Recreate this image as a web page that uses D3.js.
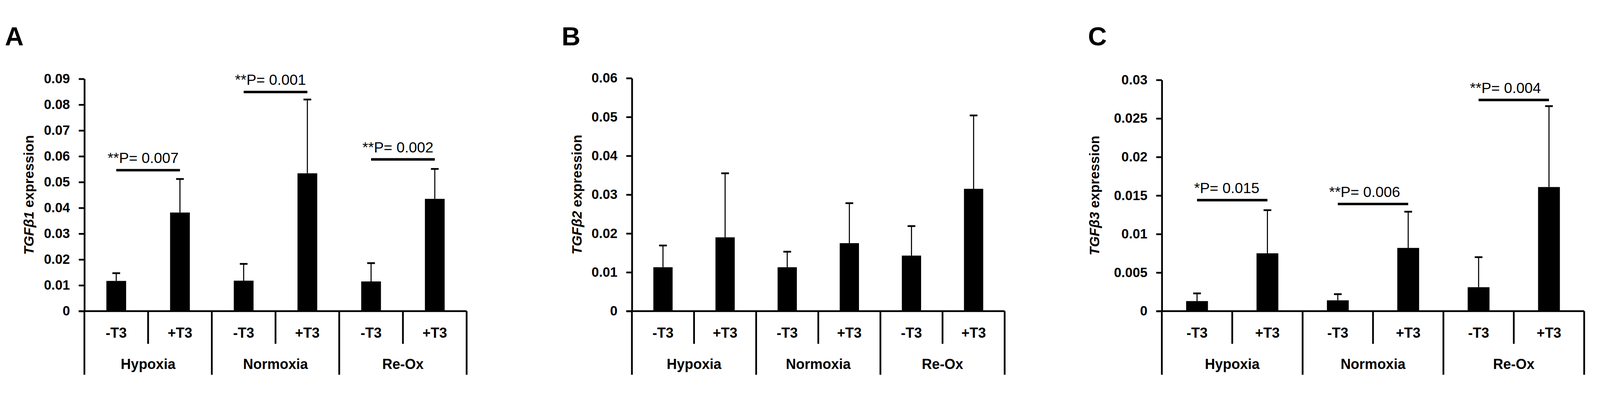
<!DOCTYPE html>
<html>
<head>
<meta charset="utf-8">
<script src="https://cdn.jsdelivr.net/npm/d3@7"></script>
<style>
  html, body { margin: 0; padding: 0; background: #fff; overflow: hidden; }
  #chart svg { display: block; width: 100vw; height: 100vh; }
  text { font-family: "Liberation Sans", Arial, sans-serif; fill: #000; }
</style>
</head>
<body>
<div id="chart"></div>
<script>
// categories
var groups = ["Hypoxia", "Normoxia", "Re-Ox"];
var treatments = ["-T3", "+T3"];

// means, in order Hypoxia -T3, +T3, Normoxia -T3, +T3, Re-Ox -T3, +T3
var tgfb1Mean = [0.0117, 0.0382, 0.0118, 0.0534, 0.0115, 0.0435];
var tgfb1Err  = [0.0030, 0.0130, 0.0065, 0.0286, 0.0071, 0.0116];
var tgfb2Mean = [0.0113, 0.0190, 0.0113, 0.0175, 0.0143, 0.0315];
var tgfb2Err  = [0.0056, 0.0165, 0.0040, 0.0103, 0.0076, 0.0189];
var tgfb3Mean = [0.0013, 0.0075, 0.0014, 0.0082, 0.0031, 0.0161];
var tgfb3Err  = [0.0010, 0.0056, 0.0008, 0.0047, 0.0039, 0.0105];

// y ticks
var tgfb1Ticks = [0, 0.01, 0.02, 0.03, 0.04, 0.05, 0.06, 0.07, 0.08, 0.09];
var tgfb2Ticks = [0, 0.01, 0.02, 0.03, 0.04, 0.05, 0.06];
var tgfb3Ticks = [0, 0.005, 0.01, 0.015, 0.02, 0.025, 0.03];

// significance brackets (group, height, text)
var tgfb1SigGroups = ["Hypoxia", "Normoxia", "Re-Ox"];
var tgfb1SigLevel  = [0.0546, 0.0849, 0.0588];
var tgfb1SigText   = ["**P= 0.007", "**P= 0.001", "**P= 0.002"];
var tgfb3SigGroups = ["Hypoxia", "Normoxia", "Re-Ox"];
var tgfb3SigLevel  = [0.0144, 0.0139, 0.0274];
var tgfb3SigText   = ["*P= 0.015", "**P= 0.006", "**P= 0.004"];

var W = 4550, H = 1031;
var y0 = 827;

var svg = d3.select("#chart")
  .append("svg")
    .attr("viewBox", "0 0 " + W + " " + H)
    .attr("preserveAspectRatio", "xMidYMid meet");

function makePanel(opt) {
	var keys = [];
	groups.forEach(function(g) {
		treatments.forEach(function(t) { keys.push(g + "|" + t); });
	});
	var rows = keys.map(function(k, i) {
		return { key: k, group: k.split("|")[0], treat: k.split("|")[1], mean: opt.mean[i], err: opt.err[i] };
	});

	var x = d3.scaleBand().domain(keys).range([opt.x0, opt.x1]).padding(0);
	var y = d3.scaleLinear().domain([0, opt.ticks[opt.ticks.length - 1]]).range([y0, opt.yTop]);
	var g = svg.append("g");

	//panel letter
	g.append("text")
	    .attr("x", opt.letterX)
	    .attr("y", 72)
	    .style("font-size", "74px")
	    .style("font-weight", "bold")
	    .text(opt.letter);

	//y axis
	var yAxis = d3.axisLeft(y)
	    .tickValues(opt.ticks)
	    .tickSizeInner(16)
	    .tickSizeOuter(0)
	    .tickPadding(25)
	    .tickFormat(function(d) { return d === 0 ? "0" : String(+d.toFixed(3)); });
	var ya = g.append("g")
	    .attr("transform", "translate(" + opt.x0 + ",0)")
	    .call(yAxis);
	ya.select(".domain").attr("stroke", "#000").attr("stroke-width", 5);
	ya.selectAll(".tick line").attr("stroke", "#000").attr("stroke-width", 5);
	ya.selectAll(".tick text")
	    .attr("fill", "#000")
	    .style("font-family", "'Liberation Sans', Arial, sans-serif")
	    .style("font-size", "38px")
	    .style("font-weight", "bold");

	//y title
	var title = g.append("text")
	    .attr("transform", "translate(" + opt.titleX + "," + ((y0 + opt.yTop) / 2) + ") rotate(-90)")
	    .attr("text-anchor", "middle")
	    .style("font-size", "39px")
	    .style("font-weight", "bold");
	title.append("tspan").style("font-style", "italic").text(opt.gene);
	title.append("tspan").text(" expression");

	//bars
	var bw = x.bandwidth() * 0.31;
	g.selectAll("rect.bar")
	    .data(rows)
	  .enter().append("rect")
	    .attr("class", "bar")
	    .attr("x", function(d) { return x(d.key) + (x.bandwidth() - bw) / 2; })
	    .attr("y", function(d) { return y(d.mean); })
	    .attr("width", bw)
	    .attr("height", function(d) { return y0 - y(d.mean); })
	    .style("fill", "#000");

	//error bars (upper only)
	g.selectAll("line.err")
	    .data(rows)
	  .enter().append("line")
	    .attr("x1", function(d) { return x(d.key) + x.bandwidth() / 2; })
	    .attr("x2", function(d) { return x(d.key) + x.bandwidth() / 2; })
	    .attr("y1", function(d) { return y(d.mean); })
	    .attr("y2", function(d) { return y(d.mean + d.err); })
	    .style("stroke", "#000")
	    .style("stroke-width", "3px");
	g.selectAll("line.cap")
	    .data(rows)
	  .enter().append("line")
	    .attr("x1", function(d) { return x(d.key) + x.bandwidth() / 2 - 11; })
	    .attr("x2", function(d) { return x(d.key) + x.bandwidth() / 2 + 11; })
	    .attr("y1", function(d) { return y(d.mean + d.err); })
	    .attr("y2", function(d) { return y(d.mean + d.err); })
	    .style("stroke", "#000")
	    .style("stroke-width", "5px");

	//x axis line
	g.append("line")
	    .attr("x1", opt.x0 - 16)
	    .attr("x2", opt.x1)
	    .attr("y1", y0)
	    .attr("y2", y0)
	    .style("stroke", "#000")
	    .style("stroke-width", "5px");

	//category dividers under the axis
	var edges = keys.map(function(k) { return x(k); }).concat([opt.x1]);
	g.selectAll("line.div")
	    .data(edges)
	  .enter().append("line")
	    .attr("x1", function(d) { return d; })
	    .attr("x2", function(d) { return d; })
	    .attr("y1", y0)
	    .attr("y2", function(d, i) { return (i % 2 == 0) ? 1008 : 920; })
	    .style("stroke", "#000")
	    .style("stroke-width", "5px");

	//treatment labels
	g.selectAll("text.treat")
	    .data(rows)
	  .enter().append("text")
	    .attr("x", function(d) { return x(d.key) + x.bandwidth() / 2; })
	    .attr("y", 903)
	    .attr("text-anchor", "middle")
	    .style("font-size", "40px")
	    .style("font-weight", "bold")
	    .text(function(d) { return d.treat; });

	//group labels
	g.selectAll("text.grp")
	    .data(groups)
	  .enter().append("text")
	    .attr("x", function(d) { return x(d + "|" + treatments[1]); })
	    .attr("y", 991)
	    .attr("text-anchor", "middle")
	    .style("font-size", "40px")
	    .style("font-weight", "bold")
	    .text(function(d) { return d; });

	//significance
	if(opt.sigGroups) {
		opt.sigGroups.forEach(function(grp, i) {
			var xa = x(grp + "|" + treatments[0]) + x.bandwidth() / 2;
			var xb = x(grp + "|" + treatments[1]) + x.bandwidth() / 2;
			var ly = y(opt.sigLevel[i]);
			g.append("line")
			    .attr("x1", xa).attr("x2", xb)
			    .attr("y1", ly).attr("y2", ly)
			    .style("stroke", "#000")
			    .style("stroke-width", "7px");
			var txt = opt.sigText[i];
			var stars = txt.match(/^\**/)[0];
			g.append("text")
			    .attr("x", xa + 8)
			    .attr("y", ly - 20)
			    .attr("text-anchor", "end")
			    .style("font-size", "42px")
			    .text(stars);
			g.append("text")
			    .attr("x", xa + 8)
			    .attr("y", ly - 20)
			    .style("font-size", "42px")
			    .text(txt.slice(stars.length));
		});
	}
}

makePanel({ letter: "A", letterX: 14, gene: "TGFβ1", mean: tgfb1Mean, err: tgfb1Err, ticks: tgfb1Ticks,
	x0: 240, x1: 1327, yTop: 167, titleX: 96,
	sigGroups: tgfb1SigGroups, sigLevel: tgfb1SigLevel, sigText: tgfb1SigText });
makePanel({ letter: "B", letterX: 1597, gene: "TGFβ2", mean: tgfb2Mean, err: tgfb2Err, ticks: tgfb2Ticks,
	x0: 1797, x1: 2857, yTop: 165, titleX: 1654 });
makePanel({ letter: "C", letterX: 3094, gene: "TGFβ3", mean: tgfb3Mean, err: tgfb3Err, ticks: tgfb3Ticks,
	x0: 3304, x1: 4505, yTop: 170, titleX: 3126,
	sigGroups: tgfb3SigGroups, sigLevel: tgfb3SigLevel, sigText: tgfb3SigText });
</script>
</body>
</html>
